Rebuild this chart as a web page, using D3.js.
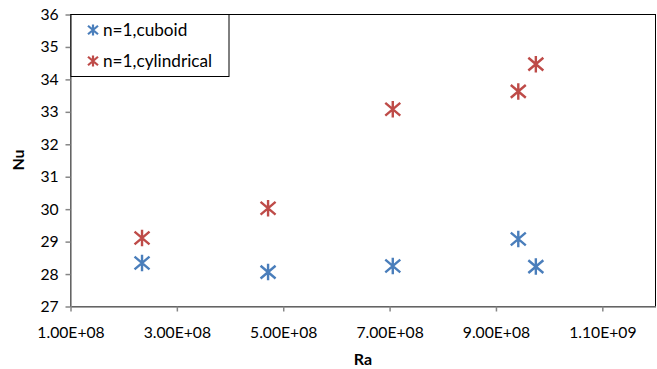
<!DOCTYPE html>
<html><head><meta charset="utf-8">
<script src="https://cdn.jsdelivr.net/npm/d3@7"></script>
<style>body{margin:0;background:#fff}svg{display:block}text{font-family:Lato,"Open Sans",sans-serif}</style>
</head><body>
<svg id="c" width="657" height="369"></svg>
<script>
const xTicks = [1e8, 3e8, 5e8, 7e8, 9e8, 1.1e9];
const xTickLabels = ["1.00E+08","3.00E+08","5.00E+08","7.00E+08","9.00E+08","1.10E+09"];
const yTicks = [27,28,29,30,31,32,33,34,35,36];
const cuboidRa = [2.345e8, 4.715e8, 7.06e8, 9.42e8, 9.75e8];
const cuboidNu = [28.34, 28.06, 28.25, 29.08, 28.23];
const cylRa = [2.345e8, 4.715e8, 7.06e8, 9.42e8, 9.75e8];
const cylNu = [29.11, 30.03, 33.08, 33.63, 34.47];
const seriesNames = ["n=1,cuboid","n=1,cylindrical"];
const colors = ["#4A7EBB","#BE4B48"];

const svg = d3.select("#c");
const L=70.5, R=655.5, T=14.5, B=306.5;
const x = d3.scaleLinear().domain([1e8,1.2e9]).range([L,R]);
const y = d3.scaleLinear().domain([27,36]).range([B,T]);

svg.append("rect").attr("x",L).attr("y",T).attr("width",R-L).attr("height",B-T)
  .attr("fill","none").attr("stroke","#000").attr("stroke-width",1);

const xa = svg.append("g").attr("transform",`translate(0,${B})`)
  .call(d3.axisBottom(x).tickValues(xTicks).tickFormat((d,i)=>xTickLabels[i]).tickSize(5).tickSizeOuter(0));
const ya = svg.append("g").attr("transform",`translate(${L},0)`)
  .call(d3.axisLeft(y).tickValues(yTicks).tickSize(5).tickSizeOuter(0));
[xa,ya].forEach(a=>{
  a.selectAll("path,line").attr("stroke","#868686").attr("stroke-width",1.5);
  a.selectAll("text").attr("font-size","15.7px").attr("fill","#000");
});
xa.selectAll("text").attr("dy","1.5em");
ya.selectAll("text").attr("dx","-0.25em");

svg.append("text").attr("x",363).attr("y",365).attr("text-anchor","middle")
  .attr("font-weight","bold").attr("font-size","16px").text("Ra");
svg.append("text").attr("transform","translate(24,160) rotate(-90)").attr("text-anchor","middle")
  .attr("font-weight","bold").attr("font-size","16px").text("Nu");

function star(s){
  return `M${-s},${-s*0.85}L${s},${s*0.85}M${-s},${s*0.85}L${s},${-s*0.85}M0,${-s*1.1}L0,${s*1.1}`;
}
const series = [[cuboidRa,cuboidNu],[cylRa,cylNu]];
series.forEach((sd,k)=>{
  svg.append("g").selectAll("path").data(sd[0].map((r,i)=>[r,sd[1][i]])).join("path")
    .attr("transform",d=>`translate(${x(d[0])},${y(d[1])})`)
    .attr("d",star(7.5)).attr("fill","none").attr("stroke",colors[k]).attr("stroke-width",2.4);
});

const lg = svg.append("g");
lg.append("rect").attr("x",71).attr("y",14.5).attr("width",158).attr("height",62)
  .attr("fill","#fff").attr("stroke","#000").attr("stroke-width",1);
seriesNames.forEach((n,k)=>{
  const yy = 30 + k*31;
  lg.append("path").attr("transform",`translate(93,${yy})`).attr("d",star(5))
    .attr("fill","none").attr("stroke",colors[k]).attr("stroke-width",2.2);
  lg.append("text").attr("x",103).attr("y",yy).attr("dy","0.35em").attr("font-size","17.2px").text(n);
});
</script>
</body></html>
